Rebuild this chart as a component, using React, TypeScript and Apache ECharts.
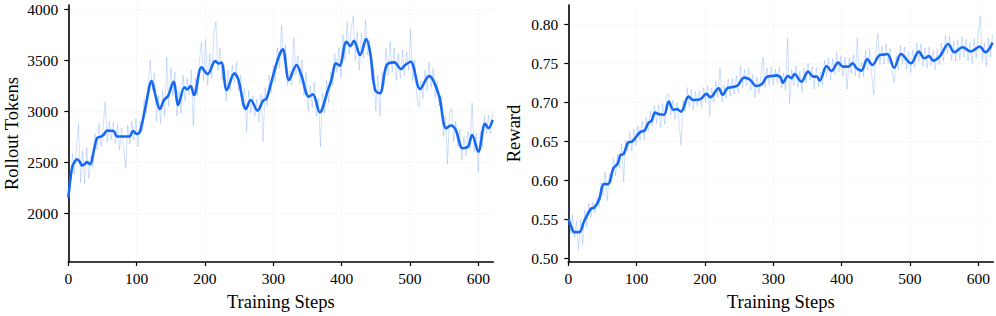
import React, { useEffect, useRef } from "react";
import * as echarts from "echarts";

// ---- Data ----
const xTicks = [0, 100, 200, 300, 400, 500, 600];
const tokenTicks = [2000, 2500, 3000, 3500, 4000];
const rewardTicks = [0.5, 0.55, 0.6, 0.65, 0.7, 0.75, 0.8];

// raw samples every 3 training steps (0, 3, 6, ... 621)
const rawStepSize = 3;
const tokensRaw = [
  2180, 2250, 2580, 2380, 2650, 2870, 2300, 2610, 2290, 2640, 2340, 2560, 2450, 2780, 2620, 2880,
  2650, 2860, 3090, 2700, 2900, 2720, 2890, 2680, 2870, 2620, 2830, 2640, 2440, 2860, 2680, 2900,
  2720, 2930, 2650, 2900, 2800, 3120, 2980, 3260, 3500, 3200, 3370, 2900, 3150, 2880, 3200, 2950,
  3530, 3050, 3420, 3150, 3380, 2950, 3200, 2980, 3350, 3100, 3320, 3160, 3400, 2850, 3330, 3150,
  3500, 3680, 3300, 3700, 3250, 3560, 3320, 3750, 3875, 3400, 3620, 3300, 3450, 3100, 3400, 3200,
  3450, 3280, 3480, 3200, 3350, 3050, 3220, 2800, 3200, 2980, 3150, 2950, 3120, 2890, 3160, 2700,
  3230, 3050, 3350, 3180, 3450, 3290, 3620, 3420, 3840, 3500, 3650, 3250, 3400, 3250, 3720, 3350,
  3540, 3260, 3500, 3150, 3380, 3000, 3250, 3030, 3280, 2950, 3130, 2650, 3180, 2980, 3300, 3080,
  3380, 3250, 3560, 3380, 3620, 3330, 3750, 3500, 3880, 3560, 3800, 3930, 3500, 3780, 3400, 3760,
  3520, 3900, 3550, 3700, 3300, 3420, 3000, 3350, 2950, 3380, 3250, 3620, 3350, 3680, 3380, 3620,
  3300, 3560, 3320, 3600, 3350, 3580, 3400, 3800, 3300, 3500, 3150, 3040, 3300, 3120, 3400, 3200,
  3480, 3230, 3420, 3130, 3300, 3050, 3150, 2750, 2950, 2480, 2980, 3030, 2700, 2900, 2650, 2820,
  2520, 2750, 2560, 2800, 2620, 3080, 2600, 2780, 2400, 2800, 2650, 2950, 2780, 2960, 2780, 2980,
];
const tokensSmoothSteps = [
  0, 3, 6, 10, 13, 17, 20, 24, 27, 32, 37, 42, 48, 52, 57, 66, 72, 89, 95, 100, 105, 113, 122, 128,
  134, 140, 146, 154, 161, 170, 174, 179, 184, 195, 204, 215, 220, 224, 232, 243, 249, 260, 267, 277,
  285, 290, 298, 308, 314, 323, 334, 341, 352, 358, 368, 380, 385, 392, 397, 407, 413, 418, 427, 436,
  442, 449, 456, 466, 477, 487, 493, 501, 515, 528, 534, 543, 553, 560, 567, 577, 585, 591, 600, 610,
  615, 621,
];
const tokensSmooth = [
  2150, 2330, 2456, 2510, 2528, 2500, 2466, 2480, 2499, 2480, 2600, 2734, 2750, 2770, 2808, 2805,
  2750, 2750, 2805, 2775, 2800, 3043, 3294, 3141, 3020, 3108, 3148, 3288, 3060, 3233, 3213, 3246,
  3157, 3428, 3363, 3490, 3467, 3475, 3206, 3370, 3305, 3020, 3108, 3004, 3102, 3120, 3304, 3532,
  3605, 3304, 3451, 3353, 3141, 3164, 2988, 3206, 3304, 3468, 3445, 3679, 3637, 3689, 3549, 3705,
  3565, 3206, 3174, 3451, 3477, 3412, 3451, 3484, 3216, 3343, 3304, 3141, 2832, 2858, 2815, 2636,
  2652, 2766, 2603, 2874, 2832, 2913,
];

const rewardRaw = [
  0.568, 0.532, 0.556, 0.527, 0.548, 0.512, 0.55, 0.518, 0.562, 0.541, 0.571, 0.553, 0.572, 0.558,
  0.579, 0.566, 0.598, 0.581, 0.611, 0.574, 0.609, 0.596, 0.628, 0.606, 0.634, 0.616, 0.647, 0.598,
  0.652, 0.637, 0.662, 0.638, 0.666, 0.645, 0.67, 0.651, 0.676, 0.652, 0.681, 0.663, 0.689, 0.67,
  0.696, 0.673, 0.697, 0.668, 0.699, 0.672, 0.708, 0.712, 0.684, 0.703, 0.678, 0.7, 0.675, 0.645,
  0.703, 0.688, 0.719, 0.694, 0.716, 0.69, 0.714, 0.695, 0.715, 0.693, 0.719, 0.7, 0.722, 0.683,
  0.718, 0.7, 0.728, 0.706, 0.744, 0.701, 0.722, 0.705, 0.73, 0.708, 0.731, 0.711, 0.734, 0.712,
  0.746, 0.719, 0.742, 0.721, 0.744, 0.716, 0.736, 0.706, 0.733, 0.712, 0.735, 0.758, 0.719, 0.744,
  0.722, 0.746, 0.722, 0.743, 0.725, 0.745, 0.718, 0.738, 0.716, 0.782, 0.699, 0.742, 0.722, 0.747,
  0.719, 0.74, 0.713, 0.744, 0.725, 0.75, 0.728, 0.746, 0.717, 0.745, 0.72, 0.739, 0.722, 0.754,
  0.733, 0.757, 0.729, 0.756, 0.736, 0.764, 0.739, 0.76, 0.733, 0.758, 0.717, 0.757, 0.737, 0.761,
  0.734, 0.782, 0.731, 0.752, 0.733, 0.766, 0.742, 0.768, 0.735, 0.71, 0.764, 0.788, 0.748, 0.772,
  0.749, 0.775, 0.75, 0.769, 0.738, 0.725, 0.76, 0.741, 0.773, 0.749, 0.771, 0.742, 0.765, 0.738,
  0.767, 0.745, 0.776, 0.752, 0.775, 0.746, 0.77, 0.744, 0.771, 0.747, 0.766, 0.742, 0.769, 0.748,
  0.776, 0.753, 0.786, 0.762, 0.785, 0.754, 0.779, 0.752, 0.78, 0.755, 0.784, 0.758, 0.781, 0.753,
  0.777, 0.75, 0.782, 0.757, 0.789, 0.81, 0.753, 0.776, 0.746, 0.782, 0.758, 0.787,
];
const rewardSmoothSteps = [
  0, 4, 8.5, 16, 23, 33, 38, 45, 52, 58, 66, 72, 76.5, 81, 87.5, 93.5, 106, 111, 117, 122, 127, 133,
  140, 147, 154, 159, 165, 176, 183, 193, 202, 208, 220, 226, 233, 247, 257.5, 266, 275, 283.5, 290,
  298, 305.5, 310.5, 314, 321.5, 326.5, 331, 341, 351, 358.5, 363.5, 368, 378, 385, 395, 402, 410,
  416, 422, 429, 437.5, 445, 456, 463, 467, 477, 487, 501.5, 513, 521, 528, 534, 544, 556, 565, 577,
  589, 602, 610.5, 621,
];
const rewardSmooth = [
  0.551, 0.542, 0.534, 0.534, 0.5476, 0.5638, 0.5655, 0.5753, 0.5954, 0.5954, 0.6158, 0.6214,
  0.6329, 0.634, 0.6486, 0.65, 0.6627, 0.6635, 0.6734, 0.6768, 0.687, 0.6848, 0.6843, 0.701, 0.6904,
  0.6915, 0.6882, 0.7074, 0.7032, 0.704, 0.7109, 0.7067, 0.7182, 0.7096, 0.7182, 0.7211, 0.7317,
  0.729, 0.7211, 0.7236, 0.7322, 0.7339, 0.7347, 0.732, 0.7254, 0.7339, 0.731, 0.7364, 0.7266,
  0.7394, 0.7331, 0.7331, 0.7279, 0.7467, 0.7403, 0.7509, 0.7458, 0.7458, 0.7501, 0.7437, 0.7407,
  0.7556, 0.748, 0.7607, 0.7613, 0.762, 0.7445, 0.762, 0.7501, 0.765, 0.7565, 0.7593, 0.7535,
  0.7593, 0.7748, 0.7642, 0.7706, 0.7652, 0.7714, 0.7642, 0.7765,
];

const BLUE = "#1769f2";
const FONT = "'Liberation Serif', 'DejaVu Serif', serif";

function pairs(xs: number[], ys: number[]) {
  return ys.map((y, i) => [xs[i], y]);
}
function rawPairs(ys: number[]) {
  return ys.map((y, i) => [i * rawStepSize, y]);
}

export default function App() {
  const ref = useRef<HTMLDivElement>(null);
  useEffect(() => {
    if (!ref.current) return;
    const chart = echarts.init(ref.current, null, { renderer: "svg" });
    const gridLine = { show: true, lineStyle: { color: "#efefef", width: 0.8, type: [2, 2] as any } };
    const axisLine = { show: true, lineStyle: { color: "#000", width: 1.6 } };
    const axisTick = { show: true, inside: false, length: 4, lineStyle: { color: "#000", width: 1.2 } };
    const nameStyle = { fontSize: 18.5, color: "#000", fontFamily: FONT };
    const mkX = (gi: number) => ({
      type: "value",
      gridIndex: gi,
      min: 0,
      max: 622,
      interval: 100,
      name: "Training Steps",
      nameLocation: "middle",
      nameGap: 30,
      nameTextStyle: nameStyle,
      axisLine,
      axisTick: { ...axisTick, customValues: xTicks },
      axisLabel: {
        fontSize: 15.5,
        color: "#000",
        fontFamily: FONT,
        margin: 8,
        customValues: xTicks,
        formatter: (v: number) => String(v),
      },
      splitLine: gridLine,
    });
    chart.setOption({
      animation: false,
      textStyle: { fontFamily: FONT },
      grid: [
        { left: 68.3, top: 5, width: 425, height: 257.3 },
        { left: 568.3, top: 5, width: 425, height: 257.3 },
      ],
      xAxis: [mkX(0), mkX(1)],
      yAxis: [
        {
          type: "value",
          gridIndex: 0,
          min: 1520,
          max: 4040,
          name: "Rollout Tokens",
          nameLocation: "middle",
          nameGap: 47,
          nameRotate: 90,
          nameTextStyle: nameStyle,
          axisLine,
          axisTick: { ...axisTick, customValues: tokenTicks },
          axisLabel: {
            fontSize: 15.5,
            color: "#000",
            fontFamily: FONT,
            margin: 10,
            customValues: tokenTicks,
            formatter: (v: number) => String(v),
          },
          splitLine: gridLine,
        },
        {
          type: "value",
          gridIndex: 1,
          min: 0.4958,
          max: 0.8247,
          name: "Reward",
          nameLocation: "middle",
          nameGap: 45,
          nameRotate: 90,
          nameTextStyle: nameStyle,
          axisLine,
          axisTick: { ...axisTick, customValues: rewardTicks },
          axisLabel: {
            fontSize: 15.5,
            color: "#000",
            fontFamily: FONT,
            margin: 10,
            customValues: rewardTicks,
            formatter: (v: number) => v.toFixed(2),
          },
          splitLine: gridLine,
        },
      ],
      series: [
        {
          type: "line",
          xAxisIndex: 0,
          yAxisIndex: 0,
          data: rawPairs(tokensRaw),
          showSymbol: false,
          lineStyle: { color: BLUE, width: 0.8, opacity: 0.26 },
          z: 1,
        },
        {
          type: "line",
          xAxisIndex: 0,
          yAxisIndex: 0,
          data: pairs(tokensSmoothSteps, tokensSmooth),
          showSymbol: false,
          smooth: 0.35,
          lineStyle: { color: BLUE, width: 2.6 },
          z: 2,
        },
        {
          type: "line",
          xAxisIndex: 1,
          yAxisIndex: 1,
          data: rawPairs(rewardRaw),
          showSymbol: false,
          lineStyle: { color: BLUE, width: 0.8, opacity: 0.26 },
          z: 1,
        },
        {
          type: "line",
          xAxisIndex: 1,
          yAxisIndex: 1,
          data: pairs(rewardSmoothSteps, rewardSmooth),
          showSymbol: false,
          smooth: 0.35,
          lineStyle: { color: BLUE, width: 2.6 },
          z: 2,
        },
      ],
    });
    return () => chart.dispose();
  }, []);
  return (
    <div
      ref={ref}
      style={{ position: "fixed", left: 0, top: 0, width: 996, height: 316, background: "#fff" }}
    />
  );
}
